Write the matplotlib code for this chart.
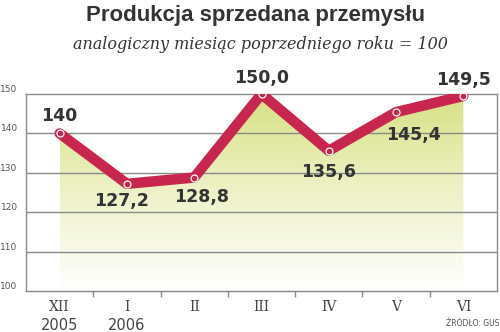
import numpy as np
import matplotlib
matplotlib.use('Agg')
import matplotlib.pyplot as plt
from matplotlib.colors import LinearSegmentedColormap

# data
months = ['XII', 'I', 'II', 'III', 'IV', 'V', 'VI']
years = ['2005', '2006', '', '', '', '', '']
values = [140.0, 127.2, 128.8, 150.0, 135.6, 145.4, 149.5]
labels = ['140', '127,2', '128,8', '150,0', '135,6', '145,4', '149,5']
yticks = [100, 110, 120, 130, 140, 150]

RED = '#c8264f'
DARK = '#333333'

fig = plt.figure(figsize=(5, 3.32), dpi=100)
ax = fig.add_axes([26 / 500, 1 - 291 / 332, 471 / 500, 197 / 332])
x = np.arange(len(values))

ax.set_xlim(-0.5, 6.5)
ax.set_ylim(100, 150)

# gradient fill under the line
cmap = LinearSegmentedColormap.from_list('g', ['#ffffff', '#eef2c8', '#d6e184'])
grad = np.linspace(0, 1, 256).reshape(-1, 1)
im = ax.imshow(grad, cmap=cmap, origin='lower', aspect='auto',
               extent=[x[0], x[-1], 100, 150], zorder=1)
poly = ax.fill_between(x, values, 100, color='none', lw=0)
im.set_clip_path(poly.get_paths()[0], transform=ax.transData)

for t in yticks[1:-1]:
    ax.axhline(t, color='#8a8a8a', lw=1.0, zorder=2)

ax.plot(x, values, color=RED, lw=7.5, solid_joinstyle='round',
        solid_capstyle='round', zorder=3)
ax.plot(x, values, 'o', ms=5, mfc=RED, mec='white', mew=0.9, zorder=4)

# value labels (offsets in pixels)
offsets = [(0, 17), (-5, -17), (7, -19), (0, 16), (0, -21), (17, -23), (0, 16)]
for xi, v, lab, (dx, dy) in zip(x, values, labels, offsets):
    ax.annotate(lab, (xi, v), xytext=(dx * 0.72, dy * 0.72),
                textcoords='offset points', ha='center', va='center',
                fontsize=12.5, fontweight='bold', color=DARK,
                family='DejaVu Sans', zorder=5, annotation_clip=False)

for s in ax.spines.values():
    s.set_color('#8a8a8a')
    s.set_linewidth(1.0)

ax.set_yticks(yticks)
ax.set_yticklabels([str(t) for t in yticks], fontsize=6.5, color='#555555')
ax.tick_params(axis='y', length=0, pad=6)
for lab in ax.get_yticklabels():
    lab.set_verticalalignment('bottom')

ax.set_xticks(x)
ax.set_xticklabels([])
ax.set_xticks(np.arange(0.5, 6, 1), minor=True)
ax.tick_params(axis='x', which='major', length=0)
ax.tick_params(axis='x', which='minor', length=4, color='#8a8a8a', width=1)

for xi, m, yr in zip(x, months, years):
    ax.text(xi, -0.045, m, transform=ax.get_xaxis_transform(), ha='center',
            va='top', fontsize=10, family='DejaVu Serif', color='#444444')
    if yr:
        ax.text(xi, -0.135, yr, transform=ax.get_xaxis_transform(),
                ha='center', va='top', fontsize=10.5, color='#444444')

fig.text(0.512, 0.952, 'Produkcja sprzedana przemysłu', ha='center', va='center',
         fontsize=16, fontweight='bold', color=DARK, family='Liberation Sans')
fig.text(0.52, 0.865, 'analogiczny miesiąc poprzedniego roku = 100', ha='center',
         va='center', fontsize=11.5, style='italic', color=DARK,
         family='DejaVu Serif')
fig.text(0.998, 0.025, 'ŹRÓDŁO: GUS', ha='right', va='center', fontsize=5.5,
         color='#555555')

fig.savefig('out.png', dpi=100)
